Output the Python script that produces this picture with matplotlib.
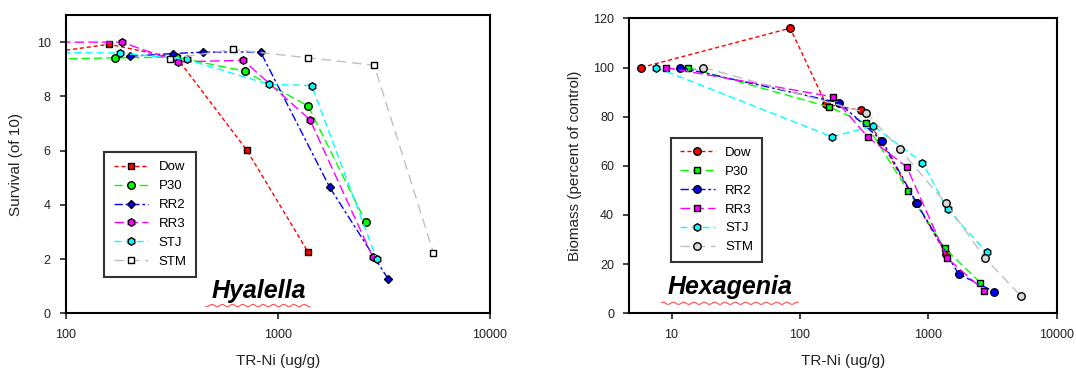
import numpy as np
import matplotlib
matplotlib.use("Agg")
import matplotlib.pyplot as plt
from matplotlib.ticker import FixedLocator, NullLocator, FuncFormatter

plt.rcParams['font.family'] = ['Liberation Sans', 'DejaVu Sans']

sites = ['Dow', 'P30', 'RR2', 'RR3', 'STJ', 'STM']

# Hyalella survival (of 10) vs TR-Ni (ug/g)
hy_x = {
    'Dow': [80, 160, 335, 711, 1390],
    'P30': [60, 170, 330, 698, 1390, 2600],
    'RR2': [200, 321, 444, 828, 1757, 3315],
    'RR3': [60, 183, 339, 686, 1416, 2797],
    'STJ': [60, 180, 371, 910, 1442, 2924],
    'STM': [309, 615, 1390, 2844, 5410],
}
hy_y = {
    'Dow': [9.6, 9.92, 9.4, 6.03, 2.25],
    'P30': [9.35, 9.42, 9.45, 8.93, 7.64, 3.35],
    'RR2': [9.48, 9.58, 9.63, 9.64, 4.64, 1.26],
    'RR3': [10.0, 10.0, 9.27, 9.33, 7.14, 2.09],
    'STJ': [9.62, 9.6, 9.36, 8.44, 8.4, 2.0],
    'STM': [9.39, 9.73, 9.42, 9.15, 2.24],
}

# Hexagenia biomass (percent of control) vs TR-Ni (ug/g)
hx_x = {
    'Dow': [5.8, 84, 160, 297, 430, 800, 1380],
    'P30': [13.5, 168, 325, 695, 1346, 2540],
    'RR2': [11.6, 201, 438, 813, 1722, 3270],
    'RR3': [9.0, 180, 340, 679, 1400, 2730],
    'STJ': [7.6, 178, 373, 901, 1413, 2864],
    'STM': [17.7, 330, 598, 1370, 2766, 5285],
}
hx_y = {
    'Dow': [100, 116, 85, 82.7, 70, 45, 24],
    'P30': [100, 84, 77.3, 49.9, 26.4, 12.5],
    'RR2': [100, 85.7, 70.2, 44.8, 16.0, 8.8],
    'RR3': [100, 88.1, 71.6, 59.6, 22.5, 9.2],
    'STJ': [100, 71.8, 76.2, 61.3, 42.3, 24.8],
    'STM': [100, 81.6, 66.8, 44.8, 22.4, 7.0],
}

colors = {'Dow': '#ff0000', 'P30': '#00ff00', 'RR2': '#0000ff',
          'RR3': '#ff00ff', 'STJ': '#00ffff', 'STM': '#c0c0c0'}
dashes = {'Dow': (0, (3, 2)), 'P30': (0, (6, 3)), 'RR2': (0, (6, 2, 2, 2)),
          'RR3': (0, (7, 3)), 'STJ': (0, (5, 3)), 'STM': (0, (7, 4))}
hy_markers = {'Dow': 's', 'P30': 'o', 'RR2': 'D', 'RR3': 'h', 'STJ': 'h', 'STM': 's'}
hx_markers = {'Dow': 'o', 'P30': 's', 'RR2': 'o', 'RR3': 's', 'STJ': 'h', 'STM': 'o'}
msize = {'s': 4.5, 'D': 4.4, 'o': 5.4, 'h': 5.4}

fig = plt.figure(figsize=(10.76, 3.71), dpi=100)
ax1 = fig.add_axes([0.0613, 0.1555, 0.394, 0.804])
ax2 = fig.add_axes([0.585, 0.1555, 0.397, 0.795])

fmt = FuncFormatter(lambda v, p: '%d' % round(v))


def draw(ax, xs, ys, markers, stm_face):
    for s in sites:
        face = stm_face if s == 'STM' else colors[s]
        ax.plot(xs[s], ys[s], color=colors[s], linestyle=dashes[s], lw=1.0,
                marker=markers[s], ms=msize[markers[s]], mfc=face, mec='black',
                mew=1.0, label=s, clip_on=True)
    ax.set_xscale('log')
    ax.xaxis.set_minor_locator(NullLocator())
    ax.xaxis.set_major_formatter(fmt)
    for sp in ax.spines.values():
        sp.set_linewidth(1.5)
    ax.tick_params(direction='out', length=4, width=1.2, labelsize=9,
                   colors='#222222', pad=7)
    leg = ax.legend(fontsize=9.5, frameon=True, fancybox=False, handlelength=2.6,
                    handletextpad=0.8, labelspacing=0.5, borderpad=0.7,
                    loc='lower left')
    leg.get_frame().set_edgecolor('black')
    leg.get_frame().set_linewidth(1.5)
    return leg


leg1 = draw(ax1, hy_x, hy_y, hy_markers, 'white')
ax1.set_xlim(100, 10000)
ax1.set_ylim(0, 11)
ax1.xaxis.set_major_locator(FixedLocator([100, 1000, 10000]))
ax1.set_yticks([0, 2, 4, 6, 8, 10])
ax1.set_xlabel('TR-Ni (ug/g)', fontsize=11, labelpad=10, color='#222222')
ax1.set_ylabel('Survival (of 10)', fontsize=11, labelpad=10, color='#222222')
leg1.set_bbox_to_anchor((0.075, 0.1), transform=ax1.transAxes)
ax1.text(0.455, 0.075, 'Hyalella', transform=ax1.transAxes, fontsize=18,
         fontweight='bold', fontstyle='italic', ha='center', va='center')
sq = np.linspace(0.33, 0.575, 60)
ax1.plot(sq, 0.026 + 0.004 * np.sin(sq * 260), color='#ff5050', lw=0.8,
         transform=ax1.transAxes, clip_on=False)

leg2 = draw(ax2, hx_x, hx_y, hx_markers, '#d9d9d9')
ax2.set_xlim(4.7, 10000)
ax2.set_ylim(0, 120)
ax2.xaxis.set_major_locator(FixedLocator([10, 100, 1000, 10000]))
ax2.set_yticks([0, 20, 40, 60, 80, 100, 120])
ax2.set_xlabel('TR-Ni (ug/g)', fontsize=11, labelpad=10, color='#222222')
ax2.set_ylabel('Biomass (percent of control)', fontsize=11, labelpad=8, color='#222222')
leg2.set_bbox_to_anchor((0.082, 0.15), transform=ax2.transAxes)
ax2.text(0.235, 0.088, 'Hexagenia', transform=ax2.transAxes, fontsize=18,
         fontweight='bold', fontstyle='italic', ha='center', va='center')
sq2 = np.linspace(0.075, 0.395, 80)
ax2.plot(sq2, 0.034 + 0.004 * np.sin(sq2 * 260), color='#ff5050', lw=0.8,
         transform=ax2.transAxes, clip_on=False)

fig.savefig('out.png', dpi=100)
